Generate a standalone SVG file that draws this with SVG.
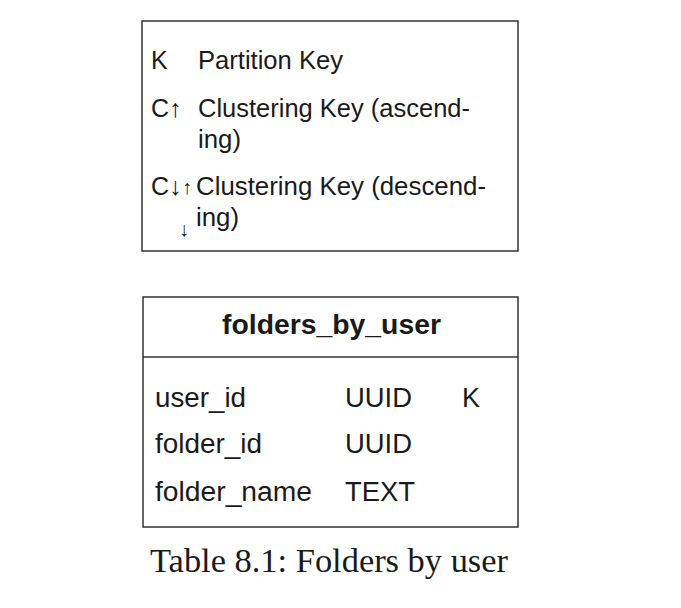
<svg xmlns="http://www.w3.org/2000/svg" width="681" height="608" viewBox="0 0 681 608">
<style>
.box{fill:#fff;stroke:#333;stroke-width:1.5}
.t{font-family:"Liberation Sans",Arial,sans-serif;font-size:25px;fill:#1a1a1a}
.r{font-size:27px}
.b{font-weight:bold;font-size:27px}
.cap{font-family:"Liberation Serif","Times New Roman",serif;font-size:34px;fill:#1a1a1a}
.sm{font-size:20px;font-weight:bold}
</style>
<rect width="681" height="608" fill="#fff"/>
<g id="legend">
<rect class="box" x="142" y="21" width="376" height="230"/>
<text class="t" x="151" y="69">K</text>
<text class="t" x="198" y="69" textLength="145" lengthAdjust="spacingAndGlyphs">Partition Key</text>
<text class="t" x="151" y="117">C↑</text>
<text class="t" x="198" y="117" textLength="272" lengthAdjust="spacingAndGlyphs">Clustering Key (ascend-</text>
<text class="t" x="198" y="148" textLength="43" lengthAdjust="spacingAndGlyphs">ing)</text>
<text class="t" x="151" y="195">C↓</text>
<text class="t sm" x="182" y="194">↑</text>
<text class="t" x="196" y="195" textLength="290" lengthAdjust="spacingAndGlyphs">Clustering Key (descend-</text>
<text class="t sm" x="179" y="236">↓</text>
<text class="t" x="196" y="226" textLength="43" lengthAdjust="spacingAndGlyphs">ing)</text>
</g>
<g id="folders_by_user">
<rect class="box" x="143" y="297" width="375" height="230"/>
<line class="box" x1="143" y1="357" x2="518" y2="357"/>
<text class="t b" x="222" y="334" textLength="219" lengthAdjust="spacingAndGlyphs">folders_by_user</text>
<text class="t r" x="155" y="407" textLength="91" lengthAdjust="spacingAndGlyphs">user_id</text>
<text class="t r" x="345" y="407" textLength="67" lengthAdjust="spacingAndGlyphs">UUID</text>
<text class="t r" x="462" y="407">K</text>
<text class="t r" x="155" y="453" textLength="107" lengthAdjust="spacingAndGlyphs">folder_id</text>
<text class="t r" x="345" y="453" textLength="67" lengthAdjust="spacingAndGlyphs">UUID</text>
<text class="t r" x="155" y="501" textLength="157" lengthAdjust="spacingAndGlyphs">folder_name</text>
<text class="t r" x="345" y="501" textLength="70" lengthAdjust="spacingAndGlyphs">TEXT</text>
</g>
<g id="connectors"/>
<text class="cap" x="150" y="572" textLength="358" lengthAdjust="spacingAndGlyphs">Table 8.1: Folders by user</text>
</svg>
